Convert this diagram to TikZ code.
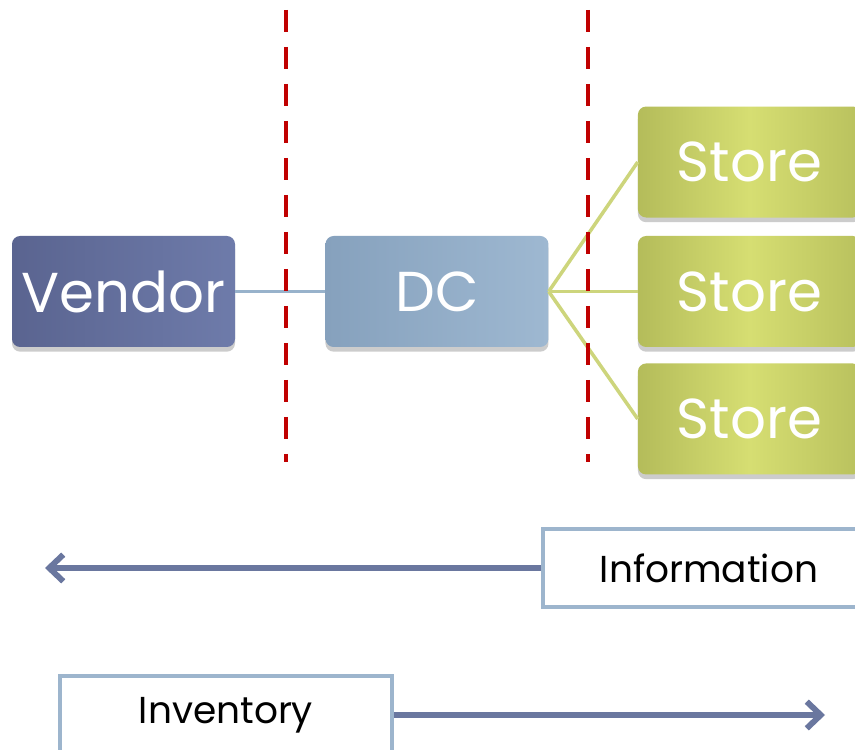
\documentclass[tikz,border=0pt]{standalone}
\usepackage{fontspec}
\setmainfont{Poppins}
\usepackage{tikz}
\usetikzlibrary{arrows.meta,positioning,shadows}
\definecolor{scvendor}{HTML}{5A6490}
\definecolor{scvendorlt}{HTML}{6E7BAA}
\definecolor{scdc}{HTML}{86A1BD}
\definecolor{scdclt}{HTML}{9EB8D1}
\definecolor{scstore}{HTML}{B4BC5A}
\definecolor{scstorelt}{HTML}{D6DE72}
\definecolor{sclink}{HTML}{98B2CB}
\definecolor{scstorelink}{HTML}{CDD57C}
\definecolor{scrouge}{HTML}{C00000}
\definecolor{scflow}{HTML}{6A779F}
\definecolor{scborder}{HTML}{9DB5CD}

\begin{document}
\begin{tikzpicture}[
  node distance=0.5cm and 2.7cm,
  tier/.style={rectangle,rounded corners=7pt,minimum width=6.69cm,minimum height=3.33cm,
    inner sep=0pt,align=center,text=white,font=\fontsize{48}{54}\selectfont,
    drop shadow={opacity=0.4,shadow xshift=0pt,shadow yshift=-4pt}},
  vendorfill/.style={left color=scvendor,right color=scvendorlt},
  dcfill/.style={left color=scdc,right color=scdclt},
  storefill/.style={left color=scstore,right color=scstore!85!scstorelt,middle color=scstorelt},
  flowbox/.style={rectangle,draw=scborder,line width=3pt,fill=white,minimum width=9.96cm,
    minimum height=2.34cm,inner sep=0pt,font=\fontsize{32}{38}\selectfont},
  link/.style={sclink,line width=3pt},
  storelink/.style={scstorelink,line width=3pt},
  sep/.style={scrouge,line width=4.2pt,dash pattern=on 0.66cm off 0.45cm},
  flow/.style={-{Straight Barb[length=0.42cm,width=0.8cm]},scflow,line width=5pt}]
  \useasboundingbox[fill=white] (0,0) rectangle (25.65,-22.5);
  \clip (0,0) rectangle (25.65,-22.5);
  % tiers
  \node[tier,vendorfill] (vendor) at (3.705,-8.745) {Vendor};
  \node[tier,dcfill,right=of vendor] (dc) {DC};
  \node[tier,storefill,right=2.67cm of dc] (store2) {Store};
  \node[tier,storefill,above=0.54cm of store2] (store1) {Store};
  \node[tier,storefill,below=0.48cm of store2] (store3) {Store};
  % liens
  \draw[link] (vendor.east) -- (dc.west);
  \draw[storelink] (dc.east) -- (store1.west);
  \draw[storelink] (dc.east) -- (store2.west);
  \draw[storelink] (dc.east) -- (store3.west);
  % separations
  \coordinate (sepatop) at (8.58,-0.3);
  \coordinate (sepabot) at (8.58,-13.86);
  \coordinate (sepbtop) at (17.64,-0.3);
  \coordinate (sepbbot) at (17.64,-13.86);
  \draw[sep] (sepatop) -- (sepabot);
  \draw[sep] (sepbtop) -- (sepbbot);
  % flux
  \node[flowbox] (info) at (21.27,-17.04) {Information};
  \coordinate (infoend) at (1.35,-17.04);
  \draw[flow] (info.west) -- (infoend);
  \node[flowbox] (inv) at (6.78,-21.45) {Inventory};
  \coordinate (invend) at (24.75,-21.45);
  \draw[flow] (inv.east) -- (invend);
\end{tikzpicture}
\end{document}
